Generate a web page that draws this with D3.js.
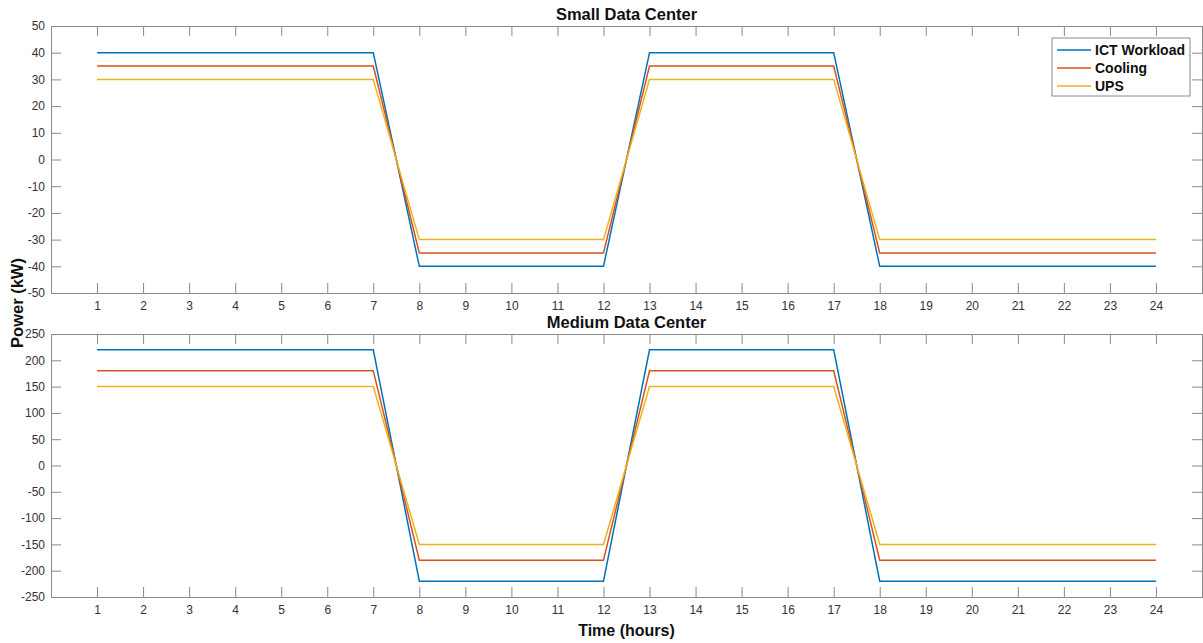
<!DOCTYPE html>
<html>
<head>
<meta charset="utf-8">
<script src="https://cdn.jsdelivr.net/npm/d3@7"></script>
<style>
body { margin: 0; background: #fff; }
svg { font-family: "Liberation Sans", Arial, sans-serif; }
</style>
</head>
<body>
<div id="chart"></div>
<script>
var hours = [1,2,3,4,5,6,7,8,9,10,11,12,13,14,15,16,17,18,19,20,21,22,23,24];
var seriesNames = ["ICT Workload", "Cooling", "UPS"];
var colors = ["#0072BD", "#D95319", "#EDB120"];

// per-hour values
var smallICT = [40,40,40,40,40,40,40,-40,-40,-40,-40,-40,40,40,40,40,40,-40,-40,-40,-40,-40,-40,-40];
var smallCooling = [35,35,35,35,35,35,35,-35,-35,-35,-35,-35,35,35,35,35,35,-35,-35,-35,-35,-35,-35,-35];
var smallUPS = [30,30,30,30,30,30,30,-30,-30,-30,-30,-30,30,30,30,30,30,-30,-30,-30,-30,-30,-30,-30];
var mediumICT = [220,220,220,220,220,220,220,-220,-220,-220,-220,-220,220,220,220,220,220,-220,-220,-220,-220,-220,-220,-220];
var mediumCooling = [180,180,180,180,180,180,180,-180,-180,-180,-180,-180,180,180,180,180,180,-180,-180,-180,-180,-180,-180,-180];
var mediumUPS = [150,150,150,150,150,150,150,-150,-150,-150,-150,-150,150,150,150,150,150,-150,-150,-150,-150,-150,-150,-150];

var smallTicks = [-50,-40,-30,-20,-10,0,10,20,30,40,50];
var mediumTicks = [-250,-200,-150,-100,-50,0,50,100,150,200,250];

var width = 1203, height = 643;
var left = 51, right = 1202;

var svg = d3.select("#chart").append("svg")
    .attr("width", width)
    .attr("height", height);

var x = d3.scaleLinear().domain([0, 25]).range([left, right]);

function panel(top, bottom, domain, ticks, data, title) {
    var y = d3.scaleLinear().domain(domain).range([bottom, top]);
    var g = svg.append("g");

    // lines
    data.forEach(function(vals, i) {
        var line = d3.line()
            .x(function(d, j) { return x(hours[j]); })
            .y(function(d) { return y(d); });
        g.append("path")
            .datum(vals)
            .attr("fill", "none")
            .attr("stroke", colors[i])
            .attr("stroke-width", 1.5)
            .attr("d", line);
    });

    var tl = 10;
    var fmt = function(d) { return String(d); };
    // bottom axis
    var xb = g.append("g").attr("transform", "translate(0," + bottom + ")")
        .call(d3.axisBottom(x).tickValues(hours).tickSize(-tl).tickPadding(8).tickFormat(fmt));
    // top axis (ticks only)
    var xt = g.append("g").attr("transform", "translate(0," + top + ")")
        .call(d3.axisTop(x).tickValues(hours).tickSize(-tl).tickFormat(""));
    // left axis
    var yl = g.append("g").attr("transform", "translate(" + left + ",0)")
        .call(d3.axisLeft(y).tickValues(ticks).tickSize(-tl).tickPadding(6).tickFormat(fmt));
    // right axis (ticks only)
    var yr = g.append("g").attr("transform", "translate(" + right + ",0)")
        .call(d3.axisRight(y).tickValues(ticks).tickSize(-tl).tickFormat(""));

    [xb, xt, yl, yr].forEach(function(a) {
        a.select(".domain").attr("stroke", "#8a8a8a").attr("stroke-width", 1);
        a.selectAll(".tick line").attr("stroke", "#8a8a8a");
        a.selectAll(".tick text").attr("fill", "#333").style("font-size", "12px")
            .style("font-family", "'Liberation Sans', Arial, sans-serif");
    });

    g.append("text")
        .attr("x", (left + right) / 2)
        .attr("y", top - 6)
        .attr("text-anchor", "middle")
        .style("font-weight", "bold")
        .style("font-size", "16.5px")
        .attr("fill", "#111")
        .text(title);
    return y;
}

panel(26, 293, [-50, 50], smallTicks, [smallICT, smallCooling, smallUPS], "Small Data Center");
panel(334, 597, [-250, 250], mediumTicks, [mediumICT, mediumCooling, mediumUPS], "Medium Data Center");

// legend
var lg = svg.append("g");
lg.append("rect")
    .attr("x", 1052).attr("y", 38)
    .attr("width", 138).attr("height", 58)
    .attr("fill", "#fff")
    .attr("stroke", "#8a8a8a");
seriesNames.forEach(function(name, i) {
    var yy = 50 + i * 18;
    lg.append("line")
        .attr("x1", 1057).attr("x2", 1091)
        .attr("y1", yy).attr("y2", yy)
        .attr("stroke", colors[i]).attr("stroke-width", 1.5);
    lg.append("text")
        .attr("x", 1095).attr("y", yy + 5)
        .style("font-weight", "bold")
        .style("font-size", "14px")
        .attr("fill", "#111")
        .text(name);
});

// axis labels
svg.append("text")
    .attr("transform", "translate(23,303) rotate(-90)")
    .attr("text-anchor", "middle")
    .style("font-weight", "bold")
    .style("font-size", "16.5px")
    .attr("fill", "#111")
    .text("Power (kW)");

svg.append("text")
    .attr("x", (left + right) / 2)
    .attr("y", 636)
    .attr("text-anchor", "middle")
    .style("font-weight", "bold")
    .style("font-size", "16px")
    .attr("fill", "#111")
    .text("Time (hours)");
</script>
</body>
</html>
